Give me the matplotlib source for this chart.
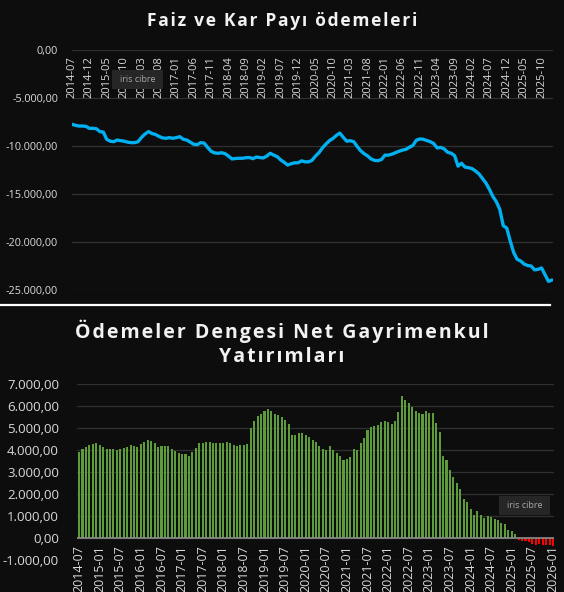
import matplotlib
matplotlib.use("Agg")
import matplotlib.pyplot as plt
from matplotlib.lines import Line2D
from matplotlib.patches import FancyBboxPatch
import numpy as np

plt.rcParams['font.family'] = ['Open Sans', 'DejaVu Sans']

# monthly data 2014-07 .. 2026-01
months = ["%d-%02d" % (2014 + (6 + i) // 12, (6 + i) % 12 + 1) for i in range(139)]

# Faiz ve Kar Payi odemeleri (USD mn, 12m rolling)
faiz = [
    -7740, -7850, -7920, -7920, -7950, -8160, -8160, -8200, -8500, -8550,
    -9310, -9500, -9550, -9380, -9450, -9500, -9600, -9650, -9650, -9550,
    -9100, -8750, -8500, -8700, -8800, -9000, -9150, -9200, -9130, -9200,
    -9130, -9030, -9300, -9380, -9600, -9820, -9860, -9650, -9700, -10150,
    -10550, -10720, -10760, -10700, -10800, -11050, -11350, -11300, -11280, -11280,
    -11220, -11200, -11320, -11150, -11200, -11250, -11050, -10760, -10950, -11110,
    -11450, -11700, -11980, -11850, -11750, -11750, -11550, -11650, -11650, -11500,
    -11050, -10700, -10200, -9800, -9450, -9220, -8900, -8650, -9100, -9500,
    -9450, -9550, -10050, -10500, -10800, -11040, -11350, -11500, -11530, -11400,
    -10950, -10950, -10850, -10700, -10550, -10430, -10350, -10130, -9950, -9400,
    -9270, -9300, -9430, -9550, -9750, -10200, -10150, -10300, -10660, -10750,
    -11000, -12100, -11800, -12200, -12260, -12350, -12600, -12900, -13370, -13850,
    -14500, -15250, -15800, -16600, -18300, -18550, -19900, -21100, -21800, -21980,
    -22300, -22450, -22500, -22900, -22850, -22700, -23400, -24100, -23960,
]

# Odemeler Dengesi Net Gayrimenkul Yatirimlari
gayrimenkul = [
    3910, 4030, 4120, 4210, 4260, 4300, 4210, 4140, 4045, 4045,
    4045, 4000, 4030, 4090, 4150, 4230, 4180, 4140, 4260, 4380,
    4450, 4390, 4300, 4140, 4180, 4180, 4180, 4030, 3950, 3860,
    3820, 3820, 3730, 3910, 4090, 4300,
    4300, 4350, 4350, 4300, 4300, 4300, 4300, 4350, 4300, 4210,
    4170, 4210, 4210, 4260,
    4985, 5300, 5560, 5650, 5760, 5850, 5760, 5650, 5600, 5480,
    5350, 5200, 4700, 4670, 4760, 4760, 4700, 4580, 4450, 4350,
    4180, 4045, 3985, 4180, 3985, 3860, 3730, 3545, 3590, 3680,
    4045, 3985, 4320, 4545, 4890, 5030, 5075, 5120, 5260, 5320,
    5270, 5180, 5300, 5710, 6440, 6260, 6120, 5940, 5760, 5670,
    5620, 5760, 5670, 5670, 5210,
    4820, 3730, 3545, 3075, 2790, 2500, 2230, 1770, 1640, 1330,
    1060, 1240, 1060, 910, 1000, 940, 860, 800, 700, 650,
    380, 330, 200,
    -100, -150, -150, -200, -250, -300, -280, -320, -330, -300, -380,
]

top_ticks = list(range(0, 139, 5))
bot_ticks = list(range(0, 139, 6))

BG = '#0d0d0d'
GRID = '#303030'
TXT = '#d9d9d9'


def tr(v):
    # turkish number format 12.345,00
    s = "{:,.2f}".format(v)
    return s.replace(",", "X").replace(".", ",").replace("X", ".")


def spaced(s, sp='\u200a'):
    return sp.join(list(s))


fig = plt.figure(figsize=(5.64, 5.92), dpi=100, facecolor=BG)
W, H = 564.0, 592.0

# ---- top chart
ax1 = fig.add_axes([72 / W, 1 - 290 / H, 481 / W, 240 / H], facecolor=BG)
x1 = np.arange(len(faiz))
ax1.plot(x1, faiz, color='#00b0f0', lw=2.4, solid_capstyle='round', zorder=3)
ax1.set_ylim(-25000, 0)
ax1.set_xlim(0, 138.3)
yt = np.arange(-25000, 1, 5000)
ax1.set_yticks(yt)
ax1.set_yticklabels([tr(v) for v in yt], fontsize=7.8, color=TXT)
for v in yt:
    ax1.axhline(v, color=GRID, lw=0.9, zorder=1)
ax1.set_xticks([])
ax1.tick_params(axis='y', length=0, pad=10)
for s in ax1.spines.values():
    s.set_visible(False)
for i in top_ticks:
    ax1.text(i, -600, months[i], rotation=90, ha='center', va='top',
             fontsize=8, color=TXT, clip_on=False, zorder=4)

fig.text(0.5, 1 - 21 / H, spaced("Faiz ve Kar Payı ödemeleri"), ha='center', va='center',
         fontsize=12.5, fontweight='bold', color='#f2f2f2')

# ---- separator
fig.add_artist(Line2D([0, 0.975], [1 - 305 / H, 1 - 305 / H], color='white', lw=1.6,
                      transform=fig.transFigure))

# ---- bottom chart
ax2 = fig.add_axes([77 / W, 1 - 560 / H, 477 / W, 176 / H], facecolor=BG)
x2 = np.arange(len(gayrimenkul))
cols = ['#5e9b3a' if v >= 0 else '#ff0000' for v in gayrimenkul]
ax2.bar(x2, gayrimenkul, width=0.6, color=cols, zorder=3)
ax2.set_ylim(-1000, 7000)
ax2.set_xlim(-0.6, 138.3)
yt2 = np.arange(-1000, 7001, 1000)
ax2.set_yticks(yt2)
ax2.set_yticklabels([tr(v) for v in yt2], fontsize=9.5, color=TXT)
for v in yt2:
    ax2.axhline(v, color=GRID, lw=0.9, zorder=1)
ax2.axhline(0, color='#8c8c8c', lw=1.2, zorder=4)
ax2.set_xticks([])
ax2.tick_params(axis='y', length=0, pad=13)
for s in ax2.spines.values():
    s.set_visible(False)
for i in bot_ticks:
    ax2.text(i, -320, months[i], rotation=90, ha='center', va='top',
             fontsize=9, color=TXT, clip_on=False, zorder=5)

fig.text(0.5, 1 - 343 / H, spaced("Ödemeler Dengesi Net Gayrimenkul") + "\n" + spaced("Yatırımları"),
         ha='center', va='center', fontsize=14, fontweight='bold', color='#f2f2f2',
         linespacing=1.25)

# ---- watermarks
for (bx, by, bw, bh) in [(112, 70, 51, 19), (499, 496, 51, 19)]:
    fig.add_artist(FancyBboxPatch((bx / W, 1 - (by + bh) / H), bw / W, bh / H,
                                  boxstyle='square,pad=0', transform=fig.transFigure,
                                  facecolor='#262626', edgecolor='none', zorder=10))
    fig.text((bx + bw / 2) / W, 1 - (by + bh / 2) / H, "iris cibre", ha='center', va='center',
             fontsize=6.5, color='#a6a6a6', zorder=11)

fig.savefig("out.png", dpi=100, facecolor=BG)
